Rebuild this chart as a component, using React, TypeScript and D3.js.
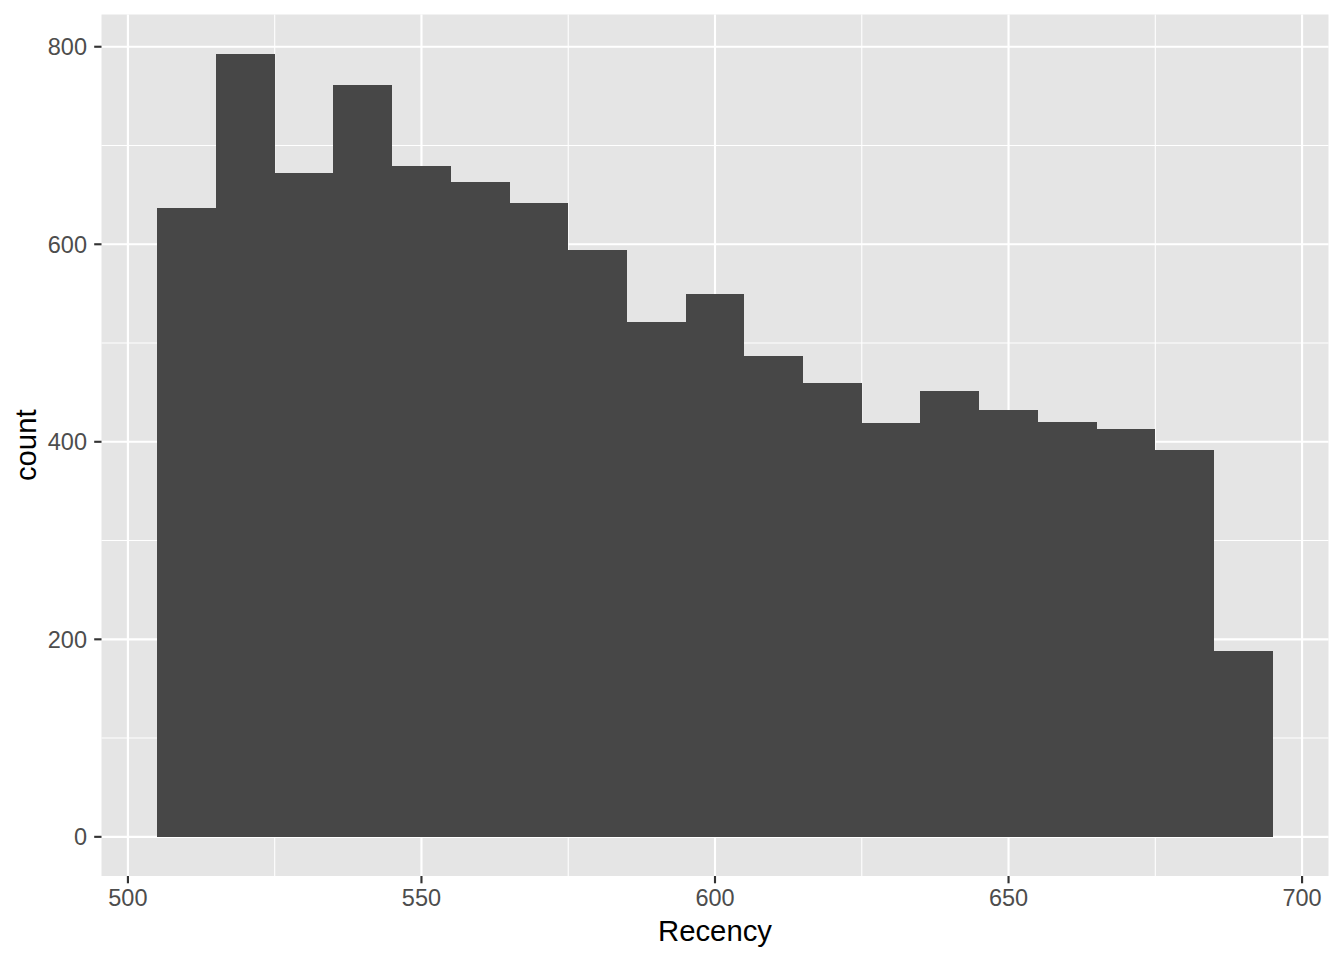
import React, { useEffect } from "react";
import * as d3 from "d3";

const binStarts: number[] = [505, 515, 525, 535, 545, 555, 565, 575, 585, 595, 605, 615, 625, 635, 645, 655, 665, 675, 685];
const counts: number[] = [637, 793, 672, 761, 679, 663, 642, 594, 521, 550, 487, 460, 419, 451, 432, 420, 413, 392, 188];
const binWidth = 10;
const xTicks: number[] = [500, 550, 600, 650, 700];
const xMinor: number[] = [525, 575, 625, 675];
const yTicks: number[] = [0, 200, 400, 600, 800];
const yMinor: number[] = [100, 300, 500, 700];
const xTitle = "Recency";
const yTitle = "count";

const W = 1344;
const H = 960;
const panel = { left: 101.5, right: 1328.5, top: 14.5, bottom: 876 };
const FONT = "'Liberation Sans', Arial, Helvetica, sans-serif";

export default function App() {
  useEffect(() => {
    document.body.style.margin = "0";
  }, []);

  const xMinData = d3.min(binStarts)!;
  const xMaxData = d3.max(binStarts)! + binWidth;
  const xPad = (xMaxData - xMinData) * 0.05;
  const x = d3
    .scaleLinear()
    .domain([xMinData - xPad, xMaxData + xPad])
    .range([panel.left, panel.right]);
  const yMax = d3.max(counts)!;
  const yPad = yMax * 0.05;
  const y = d3
    .scaleLinear()
    .domain([-yPad, yMax + yPad])
    .range([panel.bottom, panel.top]);

  return (
    <svg width={W} height={H} style={{ display: "block" }} fontFamily={FONT}>
      <rect x={0} y={0} width={W} height={H} fill="#ffffff" />
      <rect
        x={panel.left}
        y={panel.top}
        width={panel.right - panel.left}
        height={panel.bottom - panel.top}
        fill="#E5E5E5"
      />
      {/* minor grid */}
      {yMinor.map((v) => (
        <line key={"ym" + v} x1={panel.left} x2={panel.right} y1={y(v)} y2={y(v)} stroke="#ffffff" strokeWidth={1.07} />
      ))}
      {xMinor.map((v) => (
        <line key={"xm" + v} x1={x(v)} x2={x(v)} y1={panel.top} y2={panel.bottom} stroke="#ffffff" strokeWidth={1.07} />
      ))}
      {/* major grid */}
      {yTicks.map((v) => (
        <line key={"yM" + v} x1={panel.left} x2={panel.right} y1={y(v)} y2={y(v)} stroke="#ffffff" strokeWidth={2.13} />
      ))}
      {xTicks.map((v) => (
        <line key={"xM" + v} x1={x(v)} x2={x(v)} y1={panel.top} y2={panel.bottom} stroke="#ffffff" strokeWidth={2.13} />
      ))}
      {/* bars */}
      {binStarts.map((s, i) => (
        <rect
          key={"b" + s}
          x={x(s)}
          y={y(counts[i])}
          width={x(s + binWidth) - x(s)}
          height={y(0) - y(counts[i])}
          fill="#474747"
          shapeRendering="crispEdges"
        />
      ))}
      {/* y axis */}
      {yTicks.map((v) => (
        <g key={"yt" + v}>
          <line x1={panel.left - 7.3} x2={panel.left} y1={y(v)} y2={y(v)} stroke="#333333" strokeWidth={2.13} />
          <text
            x={panel.left - 14.5}
            y={y(v)}
            dy="0.36em"
            textAnchor="end"
            fontSize={23.5}
            fill="#4D4D4D"
          >
            {v}
          </text>
        </g>
      ))}
      {/* x axis */}
      {xTicks.map((v) => (
        <g key={"xt" + v}>
          <line x1={x(v)} x2={x(v)} y1={panel.bottom} y2={panel.bottom + 7.3} stroke="#333333" strokeWidth={2.13} />
          <text x={x(v)} y={panel.bottom + 30} textAnchor="middle" fontSize={23.5} fill="#4D4D4D">
            {v}
          </text>
        </g>
      ))}
      <text
        x={(panel.left + panel.right) / 2}
        y={941}
        textAnchor="middle"
        fontSize={29.3}
        fill="#000000"
      >
        {xTitle}
      </text>
      <text
        transform={`translate(36, ${(panel.top + panel.bottom) / 2}) rotate(-90)`}
        textAnchor="middle"
        fontSize={29.3}
        fill="#000000"
      >
        {yTitle}
      </text>
    </svg>
  );
}
